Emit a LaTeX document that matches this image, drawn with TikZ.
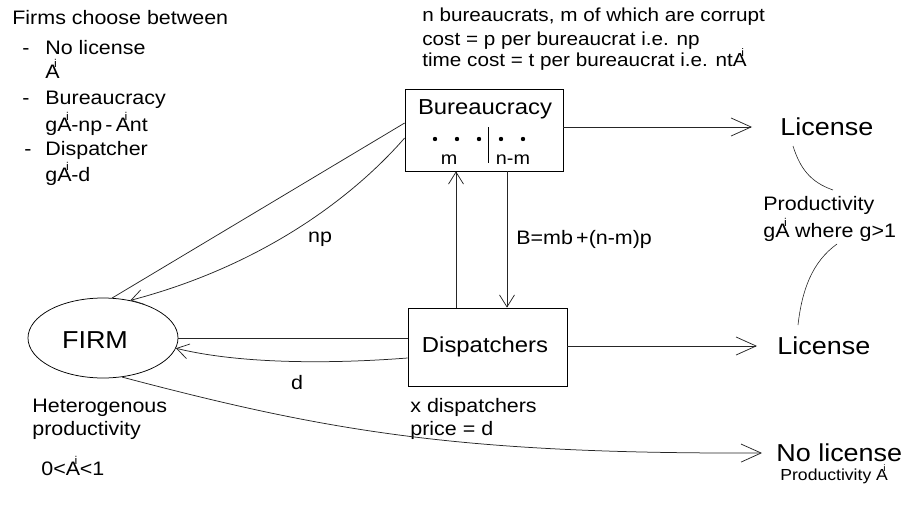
\documentclass[tikz,border=0pt]{standalone}
\usepackage{fontspec}
\setmainfont[FakeStretch=1.1]{Liberation Sans}
\usetikzlibrary{arrows.meta,shapes.geometric}
\newcommand\fmain{\fontsize{19.5}{23}\selectfont}
\newcommand\ftop{\fontsize{18.8}{22}\selectfont}
\newcommand\fbig{\fontsize{24.5}{29}\selectfont}
\newcommand\fmed{\fontsize{21.7}{26}\selectfont}
\newcommand\fsub{\fontsize{18}{21}\selectfont}
\newcommand\fsmall{\fontsize{16}{19}\selectfont}
\newcommand\supi{\kern-0.28em\raisebox{0.56em}{\scalebox{0.58}{i}}\kern0.12em}
\begin{document}
\begin{tikzpicture}[x=1pt,y=-1pt,line width=0.75pt,
  txt/.style={inner sep=0pt,text depth=0pt,anchor=west,font=\fmain,text height=14pt},
  ttop/.style={txt,font=\ftop,text height=13.5pt},
  tbig/.style={txt,font=\fbig,text height=17.5pt},
  tmed/.style={txt,font=\fmed,text height=15.5pt},
  tsub/.style={txt,font=\fsub,text height=13pt},
  tsmall/.style={txt,font=\fsmall,text height=11.5pt},
  boxnode/.style={draw,inner sep=0pt},
  conn/.style={draw=black!85},
  bigarr/.style={conn,-{Straight Barb[length=20pt,width=18pt]}},
  smarr/.style={conn,-{Straight Barb[length=12pt,width=15pt]}}]
\useasboundingbox (0,0) rectangle (905,506);

% left list
\node[txt] (t0) at (12,17) {Firms choose between};
\node[txt] (d1) at (22,47) {-};
\node[txt] (t1) at (45,47) {No license};
\node[txt] (t2) at (45,71) {A\supi};
\node[txt] (d2) at (22,97) {-};
\node[txt] (t3) at (45,97) {Bureaucracy};
\node[txt] (t4) at (45,124) {gA\supi-np\,-\,A\supi nt};
\node[txt] (d3) at (24,148) {-};
\node[txt] (t5) at (45,148) {Dispatcher};
\node[txt] (t6) at (45,174) {gA\supi-d};

% top text
\node[ttop] (u1) at (422,15) {n bureaucrats, m of which are corrupt};
\node[ttop] (u2) at (422,39) {cost = p per bureaucrat i.e. np};
\node[ttop] (u3) at (422,60) {time cost = t per bureaucrat i.e. ntA\supi};

% Bureaucracy box
\node[boxnode,minimum width=158pt,minimum height=82pt] (bur) at (484,130) {};
\node[tmed,anchor=center] (burl) at (485,107) {Bureaucracy};
\foreach \xx in {435,457,479,501,523} \fill (\xx,139) circle (2.2pt);
\draw (488,127) -- (488,163);
\node[tsub,anchor=center] (bm) at (449,158) {m};
\node[tsub,anchor=center] (bnm) at (513,158) {n-m};

% Dispatchers box
\node[boxnode,minimum width=159pt,minimum height=78pt] (disp) at (487.5,347) {};
\node[tmed,anchor=center] (displ) at (485,345) {Dispatchers};
\node[txt] (x1) at (410,405) {x dispatchers};
\node[txt] (x2) at (410,428) {price = d};

% FIRM
\node[draw,ellipse,inner sep=0pt,minimum width=150pt,minimum height=80pt] (firm) at (103,338) {};
\node[tbig,anchor=center] (firml) at (95,340) {FIRM};
\node[txt] (h1) at (32,405) {Heterogenous};
\node[txt] (h2) at (32,428) {productivity};
\node[txt] (h3) at (41,468) {0<A\supi<1};

% right side
\node[tbig] (lic1) at (780,127) {License};
\node[tbig] (lic2) at (777,346) {License};
\node[tbig] (nolic) at (776,453) {No license};
\node[tsmall] (nolp) at (780,475) {Productivity A\supi};
\node[txt] (p1) at (763,203) {Productivity};
\node[txt] (p2) at (763,230) {gA\supi{} where g>1};

% coordinates
\coordinate (ux) at (456,0);
\coordinate (dx) at (507,0);
\coordinate (c1a) at (793,146);
\coordinate (c1b) at (833,190);
\coordinate (c2a) at (837,244);
\coordinate (c2b) at (798,325);

% connectors
\draw[bigarr] (bur.east |- lic1.west) -- ([xshift=-28pt]lic1.west);
\draw[bigarr] (disp.east |- lic2.west) -- ([xshift=-20pt]lic2.west);
\draw[bigarr] (firm.-64) .. controls (330,432) and (460,454) .. ([xshift=-14pt]nolic.west);
\draw[smarr] (disp.north -| ux) -- (bur.south -| ux);
\draw[smarr] (bur.south -| dx) -- (disp.north -| dx);
\node[txt] (bl) at (516,237) {B=mb\,+(n-m)p};
\draw[conn] (firm.east) -- (firm.east -| disp.west);
\draw[smarr] ([yshift=-11pt]disp.west) .. controls (330,364) and (240,364) .. (firm.-8);
\node[txt,anchor=center] (dl) at (297,382) {d};
\draw[conn] ([yshift=7pt]bur.west) -- (firm.77);
\draw[smarr] ([yshift=-8pt]bur.west) .. controls (355,195) and (265,265) .. (firm.54);
\node[txt,anchor=center] (npl) at (320,235) {np};
\draw[conn,line width=0.6pt] (c1a) .. controls (800,168) and (810,182) .. (c1b);
\draw[conn,line width=0.6pt] (c2a) .. controls (812,262) and (802,290) .. (c2b);
\end{tikzpicture}
\end{document}
